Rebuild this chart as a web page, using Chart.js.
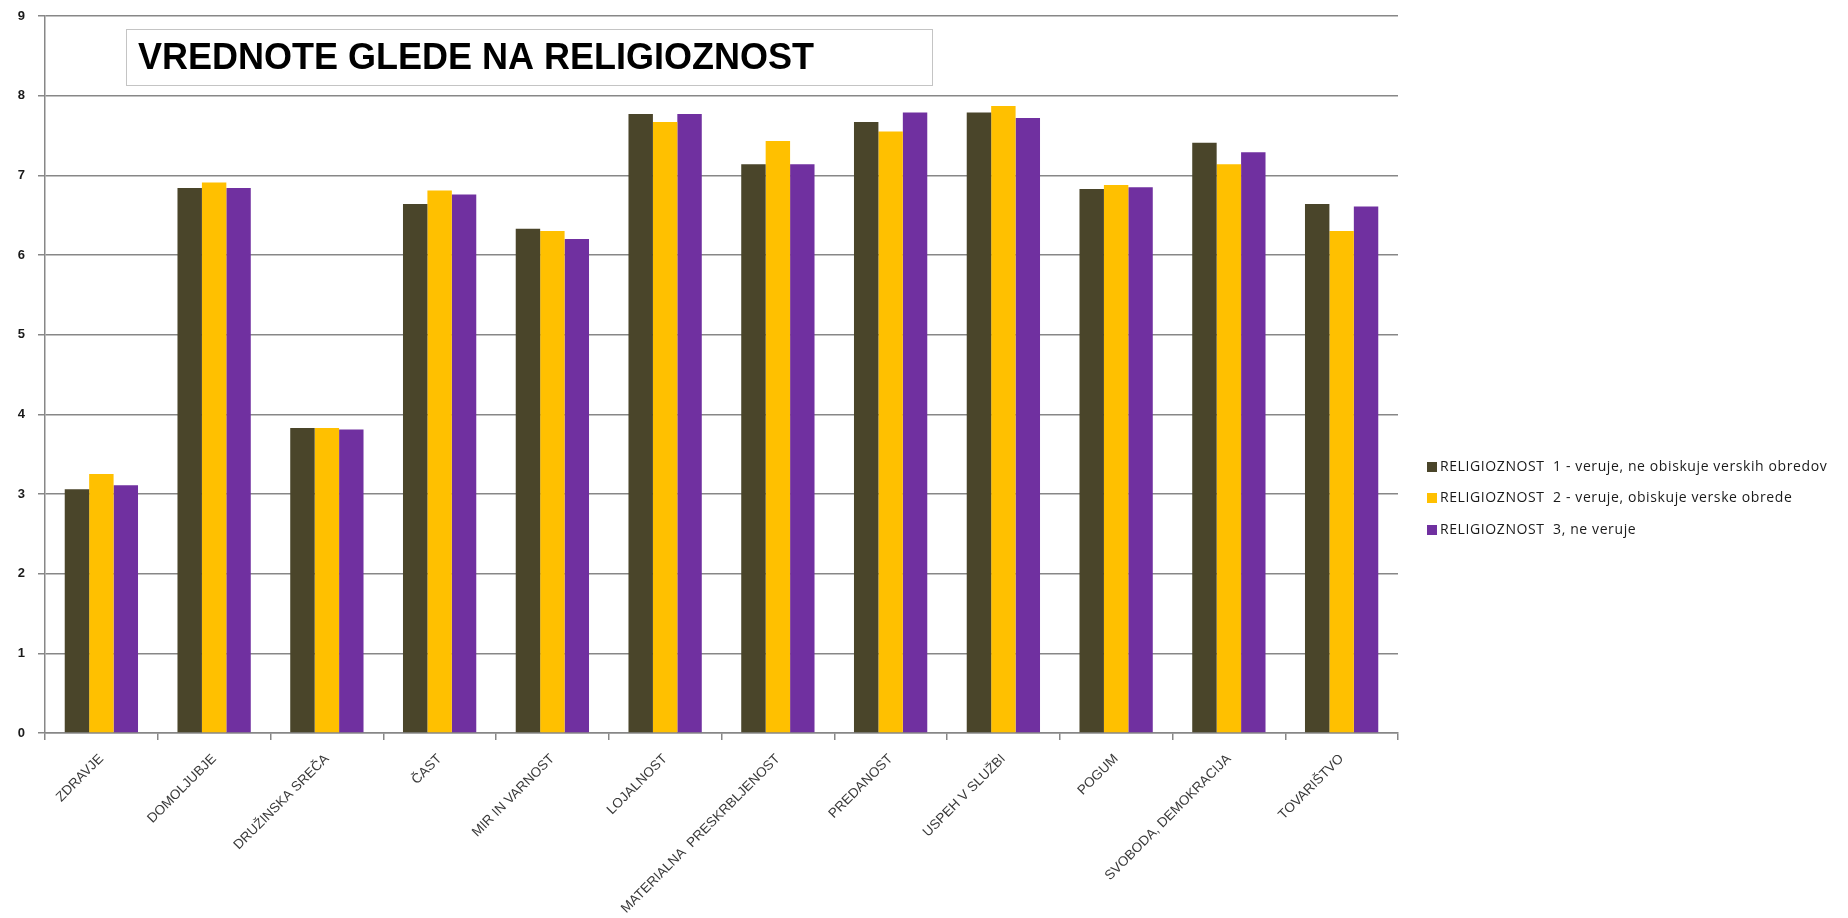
<!DOCTYPE html>
<html>
<head>
<meta charset="utf-8">
<script src="https://cdn.jsdelivr.net/npm/chart.js@4.4.1/dist/chart.umd.min.js"></script>
<style>
  html, body { margin: 0; padding: 0; background: #fff; }
  #wrap { width: 1848px; height: 918px; }
</style>
</head>
<body>
<div id="wrap"><canvas id="chart" width="1848" height="918"></canvas></div>
<script>
const categories = ["ZDRAVJE", "DOMOLJUBJE", "DRUŽINSKA SREČA", "ČAST", "MIR IN VARNOST", "LOJALNOST",
  "MATERIALNA  PRESKRBLJENOST", "PREDANOST", "USPEH V SLUŽBI", "POGUM", "SVOBODA, DEMOKRACIJA", "TOVARIŠTVO"]
const seriesNames = [
  "RELIGIOZNOST  1 - veruje, ne obiskuje verskih obredov",
  "RELIGIOZNOST  2 - veruje, obiskuje verske obrede",
  "RELIGIOZNOST  3, ne veruje",
]
const rel1 = [3.06, 6.84, 3.83, 6.64, 6.33, 7.77, 7.14, 7.67, 7.79, 6.83, 7.41, 6.64]
const rel2 = [3.25, 6.91, 3.83, 6.81, 6.30, 7.67, 7.43, 7.55, 7.87, 6.88, 7.14, 6.30]
const rel3 = [3.11, 6.84, 3.81, 6.76, 6.20, 7.77, 7.14, 7.79, 7.72, 6.85, 7.29, 6.61]
const yTicks = [0, 1, 2, 3, 4, 5, 6, 7, 8, 9]
const chartTitle = "VREDNOTE GLEDE NA RELIGIOZNOST"

const colors = ["#4a452a", "#ffc000", "#7030a0"]
const gridColor = "#878787"

// title box and legend drawn by hand so they sit where the original has them
const overlay = {
  id: "overlay",
  afterDraw(chart) {
    const ctx = chart.ctx
    ctx.save()
    // title box
    ctx.fillStyle = "#fff"
    ctx.fillRect(126.5, 29.5, 806, 56)
    ctx.strokeStyle = "#c4c4c4"
    ctx.lineWidth = 1
    ctx.strokeRect(126.5, 29.5, 806, 56)
    ctx.fillStyle = "#000"
    ctx.font = "bold 36px 'Liberation Sans', Arial, sans-serif"
    ctx.textBaseline = "alphabetic"
    ctx.fillText(chartTitle, 138, 69)

    // legend
    ctx.font = "14px 'Open Sans', sans-serif"
    ctx.letterSpacing = "0.6px"
    ctx.textBaseline = "middle"
    const rows = [467, 498, 530]
    chart.data.datasets.forEach((ds, i) => {
      ctx.fillStyle = ds.backgroundColor
      ctx.fillRect(1427, rows[i] - 5, 10, 10)
      ctx.fillStyle = "#1a1a1a"
      ctx.fillText(ds.label, 1440, rows[i])
    })
    ctx.restore()
  },
}

new Chart(document.getElementById("chart"), {
  type: "bar",
  data: {
    labels: categories,
    datasets: [
      { label: seriesNames[0], data: rel1, backgroundColor: colors[0] },
      { label: seriesNames[1], data: rel2, backgroundColor: colors[1] },
      { label: seriesNames[2], data: rel3, backgroundColor: colors[2] },
    ],
  },
  options: {
    responsive: false,
    animation: false,
    layout: { padding: { top: 16, right: 450, left: 4, bottom: 0 } },
    datasets: { bar: { categoryPercentage: 0.65, barPercentage: 1.0 } },
    plugins: {
      legend: { display: false },
      title: { display: false },
      tooltip: { enabled: false },
    },
    scales: {
      x: {
        grid: { drawOnChartArea: false, drawTicks: true, tickLength: 7, color: gridColor, lineWidth: 1.5 },
        border: { color: gridColor, width: 1.5 },
        ticks: {
          autoSkip: false,
          minRotation: 45,
          maxRotation: 45,
          padding: 11,
          color: "#3a3a3a",
          font: { family: "'Liberation Sans', Arial, sans-serif", size: 13.5 },
        },
        afterFit(scale) { scale.height = 185 },
      },
      y: {
        min: 0,
        max: 9,
        afterBuildTicks(scale) { scale.ticks = yTicks.map(v => ({ value: v })) },
        grid: { color: gridColor, lineWidth: 1.5, tickLength: 7 },
        border: { color: gridColor, width: 1.5 },
        ticks: {
          padding: 13,
          color: "#1a1a1a",
          font: { family: "'Liberation Sans', Arial, sans-serif", size: 13, weight: "bold" },
        },
        afterFit(scale) {
          scale.width = 41
          scale.paddingTop = 0
          scale.paddingBottom = 0
        },
      },
    },
  },
  plugins: [overlay],
})
</script>
</body>
</html>
